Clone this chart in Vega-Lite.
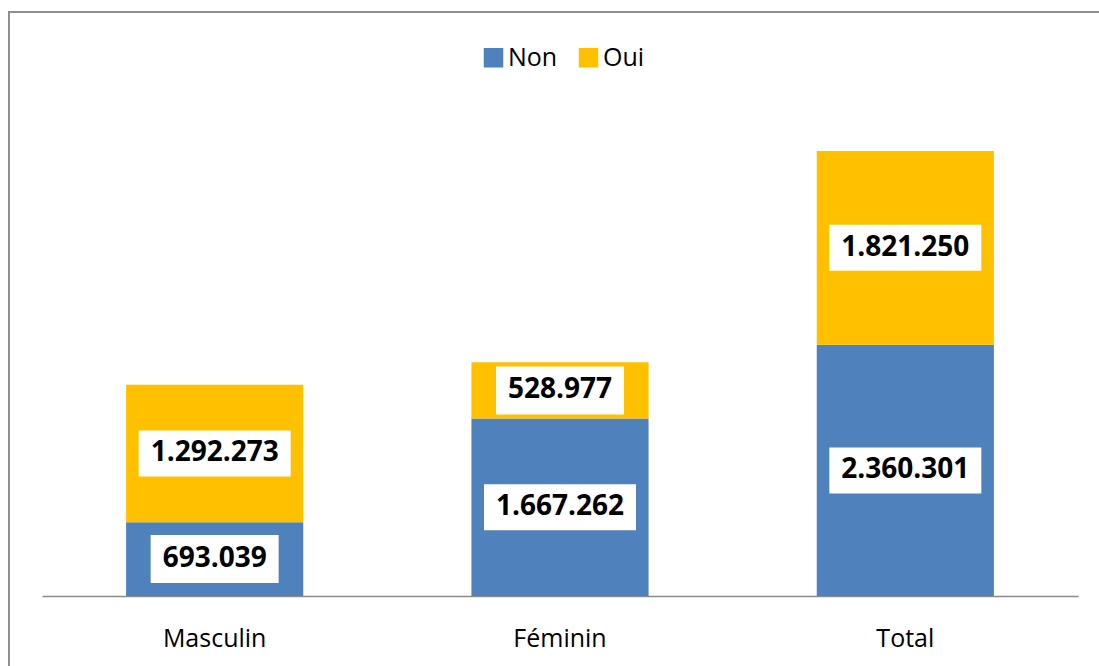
{
  "$schema": "https://vega.github.io/schema/vega-lite/v6.json",
  "width": 1100,
  "height": 670,
  "autosize": "none",
  "padding": {"left": 9, "top": 12, "right": 0, "bottom": 0},
  "background": "white",
  "config": {
    "locale": {"number": {"decimal": ",", "thousands": ".", "grouping": [3], "currency": ["", ""]}},
    "view": {"stroke": "#8f8f8f", "strokeWidth": 2},
    "font": "Open Sans"
  },
  "data": {
    "values": [
      {"cat": "Masculin", "rep": "Non", "v": 693039},
      {"cat": "Masculin", "rep": "Oui", "v": 1292273},
      {"cat": "Féminin", "rep": "Non", "v": 1667262},
      {"cat": "Féminin", "rep": "Oui", "v": 528977},
      {"cat": "Total", "rep": "Non", "v": 2360301},
      {"cat": "Total", "rep": "Oui", "v": 1821250}
    ]
  },
  "encoding": {
    "x": {
      "field": "cat",
      "type": "nominal",
      "sort": ["Masculin", "Féminin", "Total"],
      "scale": {"range": [33, 1069], "paddingInner": 0.487, "paddingOuter": 0.2435},
      "axis": {
        "title": null,
        "domainColor": "#8c8c8c",
        "domainWidth": 1.5,
        "ticks": false,
        "tickSize": 0,
        "labelFontSize": 25,
        "labelColor": "black",
        "labelPadding": 30,
        "labelAngle": 0,
        "offset": -86,
        "grid": false
      }
    }
  },
  "layer": [
    {
      "mark": {"type": "bar"},
      "encoding": {
        "y": {
          "field": "v",
          "type": "quantitative",
          "scale": {"domain": [0, 4500000], "range": [584, 105]},
          "axis": null
        },
        "order": {"field": "rep", "type": "ordinal", "sort": "ascending"},
        "color": {
          "field": "rep",
          "type": "nominal",
          "scale": {"domain": ["Non", "Oui"], "range": ["#4F81BD", "#FFC000"]},
          "legend": {
            "title": null,
            "orient": "none",
            "legendX": 472,
            "legendY": 33,
            "direction": "horizontal",
            "symbolType": "square",
            "symbolSize": 380,
            "symbolStrokeWidth": 0,
            "labelFontSize": 25,
            "labelColor": "black",
            "columnPadding": 18,
            "labelOffset": 2,
            "padding": 0
          }
        }
      }
    },
    {
      "transform": [
        {"stack": "v", "groupby": ["cat"], "sort": [{"field": "rep"}], "as": ["v0", "v1"]},
        {"calculate": "(datum.v0 + datum.v1) / 2", "as": "mid"}
      ],
      "encoding": {
        "y": {
          "field": "mid",
          "type": "quantitative",
          "stack": null,
          "scale": {"domain": [0, 4500000], "range": [584, 105]},
          "axis": null
        }
      },
      "layer": [
        {
          "mark": {"type": "point", "filled": true, "opacity": 1, "color": "white", "strokeWidth": 0},
          "encoding": {
            "size": {"value": 4},
            "shape": {
              "condition": {"test": "datum.v >= 1000000", "value": "M-76,-23H76V23H-76Z"},
              "value": "M-64,-24H64V24H-64Z"
            }
          }
        },
        {
          "mark": {"type": "text", "fontWeight": "bold", "fontSize": 28, "color": "black", "baseline": "middle"},
          "encoding": {
            "text": {"field": "v", "type": "quantitative", "format": ",.0f"}
          }
        }
      ]
    }
  ]
}
